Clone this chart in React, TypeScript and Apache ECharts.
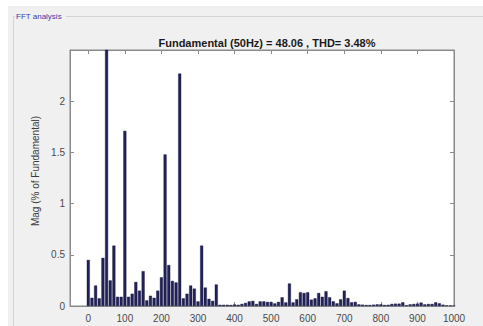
import React, { useEffect, useRef } from "react";
import * as echarts from "echarts";

const titleText = "Fundamental (50Hz) = 48.06 , THD= 3.48%";
const yAxisName = "Mag (% of Fundamental)";
const panelTitle = "FFT analysis";

const freqs = [
  0, 10, 20, 30, 40, 50, 60, 70, 80, 90,
  100, 110, 120, 130, 140, 150, 160, 170, 180, 190,
  200, 210, 220, 230, 240, 250, 260, 270, 280, 290,
  300, 310, 320, 330, 340, 350, 360, 370, 380, 390,
  400, 410, 420, 430, 440, 450, 460, 470, 480, 490,
  500, 510, 520, 530, 540, 550, 560, 570, 580, 590,
  600, 610, 620, 630, 640, 650, 660, 670, 680, 690,
  700, 710, 720, 730, 740, 750, 760, 770, 780, 790,
  800, 810, 820, 830, 840, 850, 860, 870, 880, 890,
  900, 910, 920, 930, 940, 950, 960, 970, 980, 990,
  1000,
];

const mags = [
  0.45, 0.08, 0.2, 0.075, 0.47, 100, 0.25, 0.59, 0.09, 0.09,
  1.71, 0.09, 0.12, 0.235, 0.15, 0.34, 0.055, 0.1, 0.08, 0.15,
  0.28, 1.48, 0.4, 0.245, 0.23, 2.27, 0.075, 0.12, 0.2, 0.17,
  0.045, 0.59, 0.18, 0.07, 0.05, 0.21, 0.012, 0.012, 0.012, 0.01,
  0.015, 0.012, 0.02, 0.03, 0.045, 0.05, 0.02, 0.045, 0.045, 0.04,
  0.04, 0.025, 0.04, 0.085, 0.035, 0.22, 0.035, 0.065, 0.134, 0.127,
  0.134, 0.062, 0.075, 0.127, 0.09, 0.144, 0.085, 0.046, 0.026, 0.065,
  0.15, 0.078, 0.036, 0.04, 0.016, 0.013, 0.01, 0.01, 0.013, 0.016,
  0.016, 0.01, 0.012, 0.02, 0.023, 0.023, 0.036, 0.008, 0.016, 0.02,
  0.023, 0.033, 0.016, 0.02, 0.02, 0.036, 0.026, 0.013, 0.006, 0.005,
  0.004,
];

const xTicks = [0, 100, 200, 300, 400, 500, 600, 700, 800, 900, 1000];
const xMin = -50;
const xMax = 1000;
const yMin = 0;
const yMax = 2.5;
const yStep = 0.5;

export default function App() {
  const ref = useRef<HTMLDivElement>(null);

  useEffect(() => {
    if (!ref.current) return;
    const chart = echarts.init(ref.current, null, { renderer: "svg" });
    const font = "Liberation Sans, Arial, sans-serif";
    const labelColor = "#4a4a4a";
    const axisColor = "#8a8a8a";

    const xAxisBase = {
      type: "value" as const,
      min: xMin,
      max: xMax,
      splitLine: { show: false },
      axisLine: { show: true, onZero: false, lineStyle: { color: axisColor } },
    };
    const yAxisBase = {
      type: "value" as const,
      min: yMin,
      max: yMax,
      interval: yStep,
      splitLine: { show: false },
      axisLine: { show: true, onZero: false, lineStyle: { color: axisColor } },
      axisTick: { show: true, inside: true, length: 4, lineStyle: { color: axisColor } },
    };

    chart.setOption({
      animation: false,
      backgroundColor: "#ffffff",
      title: {
        text: titleText,
        left: 262,
        top: 32,
        textAlign: "center",
        textStyle: {
          fontFamily: font,
          fontSize: 11,
          fontWeight: "bold",
          color: "#1a1a1a",
        },
      },
      graphic: [
        {
          type: "rect",
          silent: true,
          z: -10,
          shape: { x: 8, y: 6, width: 475, height: 320 },
          style: { fill: "#f0f0f0" },
        },
        {
          type: "polyline",
          silent: true,
          z: -5,
          shape: { points: [[66, 16.5], [483, 16.5]] },
          style: { stroke: "#d4d4d4", lineWidth: 1, fill: "none" },
        },
        {
          type: "polyline",
          silent: true,
          z: -5,
          shape: { points: [[15, 16.5], [13.5, 16.5], [13.5, 326]] },
          style: { stroke: "#d4d4d4", lineWidth: 1, fill: "none" },
        },
        {
          type: "text",
          silent: true,
          x: 16,
          y: 16,
          style: {
            text: panelTitle,
            fontFamily: font,
            fontSize: 8,
            fill: "#3a3aa8",
            textVerticalAlign: "middle",
          },
        },
      ],
      grid: {
        left: 70,
        top: 50,
        right: 29,
        bottom: 20,
        show: true,
        backgroundColor: "#ffffff",
        borderColor: axisColor,
        borderWidth: 1,
      },
      xAxis: [
        {
          ...xAxisBase,
          position: "bottom",
          axisTick: {
            show: true,
            inside: true,
            length: 4,
            customValues: xTicks,
            lineStyle: { color: axisColor },
          },
          axisLabel: {
            customValues: xTicks,
            fontFamily: font,
            fontSize: 10,
            color: labelColor,
            margin: 7,
            formatter: (v: number) => String(v),
          },
        },
        {
          ...xAxisBase,
          position: "top",
          axisTick: {
            show: true,
            inside: true,
            length: 4,
            customValues: xTicks,
            lineStyle: { color: axisColor },
          },
          axisLabel: { show: false },
        },
      ],
      yAxis: [
        {
          ...yAxisBase,
          position: "left",
          name: yAxisName,
          nameLocation: "middle",
          nameGap: 24,
          nameTextStyle: {
            fontFamily: font,
            fontSize: 10,
            color: "#3a3a3a",
            padding: [0, 0, 0, 14],
          },
          axisLabel: {
            fontFamily: font,
            fontSize: 10,
            color: labelColor,
            margin: 5,
            formatter: (v: number) => (v >= yMax ? "" : String(v)),
          },
        },
        {
          ...yAxisBase,
          position: "right",
          axisLabel: { show: false },
        },
      ],
      series: [
        {
          type: "bar",
          xAxisIndex: 0,
          yAxisIndex: 0,
          barWidth: 3,
          clip: true,
          data: freqs.map((f, i) => [f, mags[i]]),
          itemStyle: { color: "#22225a", borderColor: "#12123a", borderWidth: 0.4 },
        },
      ],
    });

    return () => chart.dispose();
  }, []);

  return (
    <div
      ref={ref}
      style={{ position: "fixed", left: 0, top: 0, width: 483, height: 326 }}
    />
  );
}
